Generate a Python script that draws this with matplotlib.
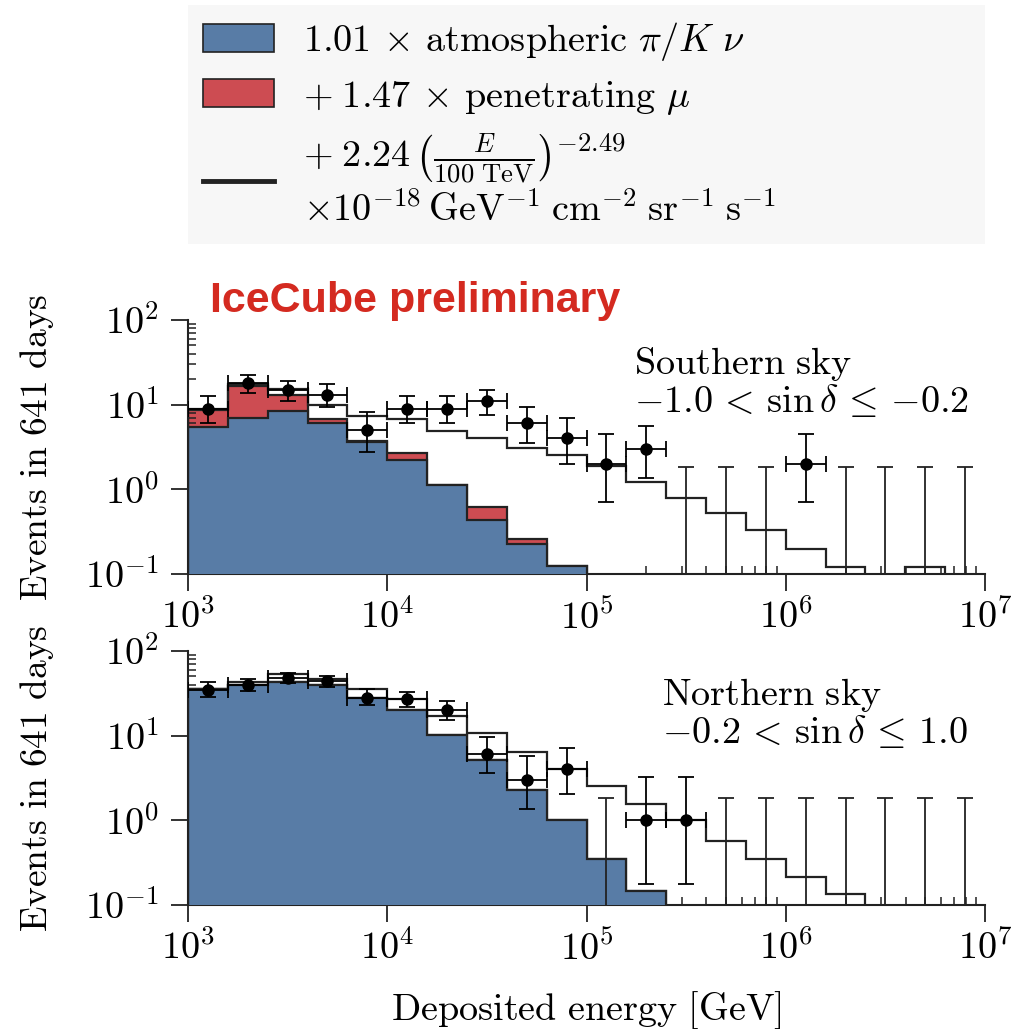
import numpy as np
import matplotlib
matplotlib.use("Agg")
import matplotlib.pyplot as plt
from matplotlib.patches import Patch
from matplotlib.lines import Line2D
from matplotlib.ticker import LogLocator, FuncFormatter, NullFormatter

plt.rcParams['mathtext.fontset'] = 'cm'
plt.rcParams['font.family'] = ['DejaVu Serif']

# 5 bins per decade, 1 TeV .. 10 PeV
edges = np.logspace(3, 7, 21)
centers = np.sqrt(edges[:-1] * edges[1:])

# ---- southern sky ----
atm_s = [5.4, 7.0, 8.5, 6.1, 3.6, 2.25, 1.11, 0.43, 0.225, 0.123,
         0, 0, 0, 0, 0, 0, 0, 0, 0, 0]
mu_s = [3.3, 9.4, 4.6, 0.7, 0.1, 0.45, 0.02, 0.19, 0.035, 0.002,
        0, 0, 0, 0, 0, 0, 0, 0, 0, 0]
total_s = [9.0, 17.5, 15.4, 10.0, 7.4, 6.7, 4.85, 4.05, 3.09, 2.54,
           1.88, 1.22, 0.80, 0.52, 0.335, 0.20, 0.12, 0, 0.12, 0]
counts_s = [9, 18, 15, 13, 5, 9, 9, 11, 6, 4, 2, 3, 0, 0, 0, 2, 0, 0, 0, 0]
lo_s = [6.0, 13.7, 11.1, 9.3, 2.75, 6.0, 6.0, 7.6, 3.5, 2.0,
        0.70, 1.35, 0, 0, 0, 0.70, 0, 0, 0, 0]
hi_s = [12.8, 22.5, 19.1, 17.5, 8.1, 12.8, 12.8, 15.0, 9.4, 7.0,
        4.56, 5.66, 1.85, 1.85, 1.85, 4.56, 1.85, 1.85, 1.85, 1.85]

# ---- northern sky ----
atm_n = [35.5, 39.8, 43.5, 39.8, 28.0, 20.1, 10.2, 5.2, 2.28, 1.0,
         0.35, 0.145, 0, 0, 0, 0, 0, 0, 0, 0]
mu_n = [0] * 20
total_n = [36.0, 43.5, 53.0, 46.4, 36.0, 27.0, 17.0, 10.7, 6.4, 4.04,
           2.54, 1.57, 1.0, 0.57, 0.35, 0.214, 0.134, 0, 0, 0]
counts_n = [35, 40, 48, 44, 28, 27, 20, 6, 3, 4, 0, 1, 1, 0, 0, 0, 0, 0, 0, 0]
lo_n = [29.0, 34.0, 41.5, 37.5, 23.0, 21.6, 15.3, 3.6, 1.36, 2.05,
        0, 0.175, 0.175, 0, 0, 0, 0, 0, 0, 0]
hi_n = [42.7, 46.5, 55.0, 51.0, 35.6, 33.0, 25.4, 9.6, 5.8, 7.1,
        1.85, 3.25, 3.25, 1.85, 1.85, 1.85, 1.85, 1.85, 1.85, 1.85]

sky_labels = [r'$\mathrm{Southern\ sky}$' + '\n'
              + r'${-}1.0\,<\,\sin\delta\,\leq\,{-}0.2$',
              r'$\mathrm{Northern\ sky}$' + '\n'
              + r'${-}0.2\,<\,\sin\delta\,\leq\,1.0$']

BLUE = '#587ca6'
RED = '#cd4c52'
DARK = '#222222'
FS = 27.5


def log_fmt(v, pos):
    return r'$10^{%d}$' % int(round(np.log10(v)))


def draw_panel(ax, atm, mu, total, counts, lo, hi, label, label_xy):
    atm = np.array(atm, float)
    stack = atm + np.array(mu, float)
    ax.stairs(stack, edges, fill=True, color=RED, zorder=1)
    ax.stairs(stack, edges, color=DARK, lw=1.6, zorder=2)
    ax.stairs(atm, edges, fill=True, color=BLUE, zorder=3)
    ax.stairs(atm, edges, color=DARK, lw=1.6, zorder=4)
    ax.stairs(np.array(total, float), edges, color=DARK, lw=1.6, zorder=5)

    counts = np.array(counts, float)
    lo = np.array(lo, float)
    hi = np.array(hi, float)
    seen = counts > 0
    xe = [centers[seen] - edges[:-1][seen], edges[1:][seen] - centers[seen]]
    ax.errorbar(centers[seen], counts[seen], xerr=xe,
                yerr=[counts[seen] - lo[seen], hi[seen] - counts[seen]],
                fmt='o', color='black', ms=8, lw=1.3, capsize=6, capthick=1.3,
                zorder=6)
    # empty bins: upper limits only
    ax.errorbar(centers[~seen], hi[~seen], yerr=[hi[~seen] - 1e-3, 0 * hi[~seen]],
                fmt='none', ecolor=DARK, lw=1.3, capsize=6, capthick=1.3, zorder=6)

    ax.set_xscale('log')
    ax.set_yscale('log', nonpositive='clip')
    ax.set_xlim(1e3, 1e7)
    ax.set_ylim(0.1, 100)
    for s in ['top', 'right']:
        ax.spines[s].set_visible(False)
    for s in ['left', 'bottom']:
        ax.spines[s].set_linewidth(1.5)
        ax.spines[s].set_color(DARK)
    for axis in [ax.xaxis, ax.yaxis]:
        axis.set_major_locator(LogLocator(base=10, numticks=10))
        axis.set_minor_locator(LogLocator(base=10, subs=np.arange(2, 10), numticks=10))
        axis.set_major_formatter(FuncFormatter(log_fmt))
        axis.set_minor_formatter(NullFormatter())
    ax.tick_params(which='major', direction='out', length=12, width=1.3,
                   labelsize=FS, pad=6, color=DARK)
    ax.tick_params(axis='y', which='major', pad=9)
    ax.tick_params(which='minor', direction='in', length=5.5, width=1.1, color=DARK)
    ax.set_ylabel(r'$\mathrm{Events\ in\ 641\ days}$', fontsize=27)
    ax.yaxis.set_label_coords(-0.166, 0.5)
    ax.text(label_xy[0], label_xy[1], label, transform=ax.transAxes,
            fontsize=FS, ha='left', va='top', linespacing=1.0)


fig = plt.figure(figsize=(10.24, 10.29), dpi=100)
ax_s = fig.add_axes([188 / 1024, 1 - 574 / 1029, 797 / 1024, 254 / 1029])
ax_n = fig.add_axes([188 / 1024, 1 - 905 / 1029, 797 / 1024, 254 / 1029])

draw_panel(ax_s, atm_s, mu_s, total_s, counts_s, lo_s, hi_s, sky_labels[0], (0.56, 0.9))
draw_panel(ax_n, atm_n, mu_n, total_n, counts_n, lo_n, hi_n, sky_labels[1], (0.595, 0.9))
ax_n.set_xlabel(r'$\mathrm{Deposited\ energy\ [GeV]}$', fontsize=FS, labelpad=16)

fig.text(210 / 1024, 1 - 312 / 1029, 'IceCube preliminary', color='#d42a20',
         fontsize=31, fontweight='bold', family='Liberation Sans', va='baseline')

handles = [Patch(facecolor=BLUE, edgecolor=DARK, lw=1.2),
           Patch(facecolor=RED, edgecolor=DARK, lw=1.2),
           Line2D([], [], color=DARK, lw=3.5)]
labels = [r'$1.01\,\times\,\mathrm{atmospheric}\ \pi/K\ \nu$',
          r'$+\;1.47\,\times\,\mathrm{penetrating}\ \mu$',
          r'$+\;2.24\,\left(\frac{E}{100\ \mathrm{TeV}}\right)^{-2.49}$' + '\n'
          + r'$\times10^{-18}\,\mathrm{GeV}^{-1}\;\mathrm{cm}^{-2}\;\mathrm{sr}^{-1}\;\mathrm{s}^{-1}$']
leg = fig.legend(handles, labels, loc='upper left',
                 bbox_to_anchor=(188 / 1024, 1 - 5 / 1029, 797 / 1024, 0),
                 mode='expand', borderaxespad=0, fontsize=FS, frameon=True,
                 fancybox=False, handlelength=1.85, handleheight=0.75,
                 handletextpad=0.75, labelspacing=0.4, borderpad=0.4)
leg.get_frame().set_facecolor('#f5f5f5')
leg.get_frame().set_edgecolor('none')

fig.savefig('out.png', dpi=100)
